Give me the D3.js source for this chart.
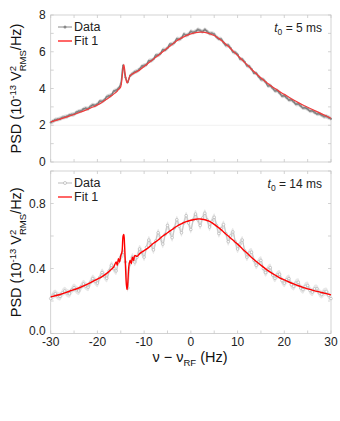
<!DOCTYPE html>
<html>
<head>
<meta charset="utf-8">
<script src="https://cdn.jsdelivr.net/npm/d3@7"></script>
<style>
  body { margin: 0; background: #fff; }
  svg { font-family: "Liberation Sans", Arial, sans-serif; }
</style>
</head>
<body>
<svg id="chart" width="340" height="421"></svg>
<script>
// sample grid of the measured spectra (Hz), 0.5 Hz steps
const nuData = d3.range(-30, 30.001, 0.5);

// t0 = 5 ms, measured PSD (1e-13 V^2/Hz)
const dataTop = [2.15, 2.22, 2.3, 2.32, 2.35, 2.42, 2.45, 2.48, 2.55, 2.58,
  2.6, 2.7, 2.75, 2.78, 2.88, 2.92, 2.9, 3.02, 3.1, 3.08,
  3.15, 3.3, 3.3, 3.38, 3.55, 3.6, 3.65, 3.85, 3.9, 4.0,
  4.25, 5.25, 4.6, 4.35, 4.7, 4.8, 4.9, 4.95, 5.05, 5.2,
  5.25, 5.3, 5.5, 5.52, 5.6, 5.8, 5.82, 5.9, 6.1, 6.1,
  6.2, 6.4, 6.42, 6.5, 6.7, 6.68, 6.75, 6.95, 6.9, 6.95,
  7.1, 7.05, 7.1, 7.2, 7.15, 7.1, 7.2, 7.1, 7.0, 7.0,
  6.95, 6.8, 6.7, 6.68, 6.5, 6.35, 6.35, 6.2, 6.0, 5.95,
  5.85, 5.62, 5.58, 5.45, 5.25, 5.2, 5.05, 4.85, 4.82, 4.65,
  4.5, 4.48, 4.35, 4.15, 4.15, 4.02, 3.88, 3.88, 3.75, 3.6,
  3.6, 3.5, 3.38, 3.38, 3.28, 3.15, 3.15, 3.05, 2.95, 2.95,
  2.88, 2.78, 2.78, 2.7, 2.62, 2.62, 2.55, 2.48, 2.48, 2.42, 2.35];

// t0 = 14 ms, measured PSD
const dataBottom = [0.215, 0.235, 0.245, 0.232, 0.228, 0.25, 0.262, 0.25, 0.245, 0.268,
  0.282, 0.27, 0.262, 0.288, 0.305, 0.292, 0.285, 0.315, 0.338, 0.322,
  0.31, 0.345, 0.375, 0.355, 0.34, 0.385, 0.42, 0.4, 0.385, 0.44,
  0.47, 0.5, 0.44, 0.28, 0.43, 0.47, 0.44, 0.47, 0.52, 0.5,
  0.47, 0.53, 0.575, 0.545, 0.515, 0.57, 0.62, 0.585, 0.55, 0.61,
  0.665, 0.625, 0.59, 0.65, 0.7, 0.66, 0.62, 0.68, 0.725, 0.68,
  0.64, 0.7, 0.735, 0.7, 0.665, 0.71, 0.74, 0.7, 0.655, 0.69,
  0.715, 0.665, 0.615, 0.645, 0.67, 0.615, 0.565, 0.6, 0.625, 0.565,
  0.52, 0.55, 0.575, 0.51, 0.47, 0.495, 0.5, 0.45, 0.42, 0.44,
  0.45, 0.4, 0.375, 0.395, 0.405, 0.36, 0.34, 0.36, 0.365, 0.325,
  0.31, 0.33, 0.338, 0.3, 0.29, 0.31, 0.315, 0.28, 0.27, 0.29,
  0.295, 0.265, 0.255, 0.275, 0.275, 0.25, 0.24, 0.255, 0.258, 0.235, 0.215];

// fit curves
const nuFit = [-30, -28, -26, -24, -22, -20, -19, -18, -17, -16.5, -16, -15.75, -15.5, -15.25, -15,
  -14.75, -14.5, -14.35, -14.2, -14, -13.8, -13.65, -13.5, -13.25, -13, -12.75, -12.5, -12.25, -12,
  -11.5, -11, -10, -9, -8, -7, -6, -5, -4, -3, -2, -1, 0, 1, 2, 3, 4, 5, 6, 7, 8, 9, 10,
  11, 12, 13, 14, 15, 16, 17, 18, 19, 20, 21, 22, 23, 24, 25, 26, 27, 28, 29, 30];
const fitTop = [2.18, 2.33, 2.5, 2.68, 2.88, 3.1, 3.25, 3.42, 3.6, 3.7, 3.8, 3.86, 3.95, 4.0, 4.1,
  4.5, 5.1, 5.3, 5.1, 4.7, 4.4, 4.3, 4.35, 4.55, 4.7, 4.74, 4.8, 4.82, 4.86,
  4.93, 5.0, 5.2, 5.4, 5.6, 5.8, 6.0, 6.2, 6.4, 6.6, 6.75, 6.88, 6.97, 7.04, 7.07, 7.05, 6.98, 6.88, 6.72, 6.52, 6.3, 6.05, 5.8,
  5.55, 5.3, 5.05, 4.8, 4.58, 4.37, 4.18, 4.0, 3.83, 3.68, 3.52, 3.37, 3.23, 3.1, 2.98, 2.86, 2.74, 2.62, 2.5, 2.38];
const fitBottom = [0.225, 0.24, 0.26, 0.28, 0.305, 0.335, 0.35, 0.37, 0.395, 0.41, 0.44, 0.42, 0.46, 0.44, 0.48,
  0.5, 0.6, 0.61, 0.55, 0.42, 0.3, 0.27, 0.31, 0.42, 0.45, 0.43, 0.47, 0.45, 0.48,
  0.475, 0.49, 0.51, 0.53, 0.555, 0.575, 0.6, 0.62, 0.64, 0.66, 0.675, 0.688, 0.697, 0.703, 0.705, 0.7, 0.69, 0.672, 0.65, 0.625, 0.6, 0.575, 0.55,
  0.522, 0.495, 0.468, 0.443, 0.42, 0.398, 0.378, 0.36, 0.343, 0.33, 0.317, 0.305, 0.294, 0.284, 0.275, 0.267, 0.259, 0.252, 0.245, 0.238];

// uncertainty half-widths
const errTop = 0.12;
const errBottom = 0.025;

const xTicks = [-30, -20, -10, 0, 10, 20, 30];
const yTicksTop = [0, 2, 4, 6, 8];
const yTicksBottom = [0.0, 0.4, 0.8];

const svg = d3.select("#chart");
const left = 50.7, right = 331;

const x = d3.scaleLinear().domain([-30, 30]).range([left, right]);

const panels = [
  { top: 15, bottom: 162, domain: [0, 8], ticks: yTicksTop, minor: d3.range(0, 8.01, 1),
    fmt: d3.format("d"), data: dataTop, fit: fitTop, err: errTop, label: "5 ms", dark: true },
  { top: 171, bottom: 333.5, domain: [0, 1], ticks: yTicksBottom, minor: d3.range(0, 1.01, 0.2),
    fmt: d3.format(".1f"), data: dataBottom, fit: fitBottom, err: errBottom, label: "14 ms", dark: false }
];

panels.forEach((p, i) => {
  const y = d3.scaleLinear().domain(p.domain).range([p.bottom, p.top]);
  const g = svg.append("g");

  // faint gridline seen in the top panel
  if (i === 0) {
    g.append("line").attr("x1", left).attr("x2", right)
      .attr("y1", y(2)).attr("y2", y(2))
      .attr("stroke", "#eee").attr("stroke-width", 0.8);
  }

  // frame
  g.append("rect").attr("x", left).attr("y", p.top)
    .attr("width", right - left).attr("height", p.bottom - p.top)
    .attr("fill", "none").attr("stroke", "#c8c8c8").attr("stroke-width", 0.8);

  // inward ticks, every 5 Hz on x
  const tk = g.append("g").attr("stroke", "#c8c8c8").attr("stroke-width", 0.8);
  d3.range(-30, 30.01, 5).forEach(v => {
    tk.append("line").attr("x1", x(v)).attr("x2", x(v)).attr("y1", p.bottom).attr("y2", p.bottom - 3);
    tk.append("line").attr("x1", x(v)).attr("x2", x(v)).attr("y1", p.top).attr("y2", p.top + 3);
  });
  p.minor.forEach(v => {
    tk.append("line").attr("x1", left).attr("x2", left + 3).attr("y1", y(v)).attr("y2", y(v));
    tk.append("line").attr("x1", right).attr("x2", right - 3).attr("y1", y(v)).attr("y2", y(v));
  });

  // y tick labels (lowest bottom label nudged up, clear of "-30")
  g.selectAll(".yl").data(p.ticks).join("text")
    .attr("x", left - 5).attr("y", d => y(d) - (i === 1 && d === 0 ? 3 : 0)).attr("dy", "0.35em")
    .attr("text-anchor", "end").attr("font-size", 12).attr("fill", "#222")
    .text(p.fmt);

  // data: band, line, markers
  const pts = p.data.map((v, k) => [nuData[k], v]);
  g.append("path").datum(pts)
    .attr("fill", p.dark ? "#d6d6d6" : "#e8e8e8")
    .attr("d", d3.area().x(d => x(d[0])).y0(d => y(d[1] - p.err)).y1(d => y(d[1] + p.err))
      .curve(d3.curveCatmullRom));
  g.append("path").datum(pts)
    .attr("fill", "none").attr("stroke", p.dark ? "#777" : "#bdbdbd").attr("stroke-width", p.dark ? 1.4 : 0.9)
    .attr("d", d3.line().x(d => x(d[0])).y(d => y(d[1])).curve(d3.curveCatmullRom));
  g.selectAll(".pt").data(pts).join("circle")
    .attr("cx", d => x(d[0])).attr("cy", d => y(d[1])).attr("r", p.dark ? 1.1 : 1.3)
    .attr("fill", p.dark ? "#888" : "#fff").attr("stroke", p.dark ? "none" : "#aaa").attr("stroke-width", 0.6);

  // fit
  const fpts = p.fit.map((v, k) => [nuFit[k], v]);
  g.append("path").datum(fpts)
    .attr("fill", "none").attr("stroke", p.dark ? "#f03c3c" : "#f00").attr("stroke-width", p.dark ? 1.2 : 1.4)
    .attr("d", d3.line().x(d => x(d[0])).y(d => y(d[1])).curve(d3.curveCatmullRom));

  // legend
  const ly = p.top + 12;
  const lg = g.append("g").attr("font-size", 12.5).attr("fill", "#222");
  lg.append("line").attr("x1", 58).attr("x2", 72).attr("y1", ly).attr("y2", ly)
    .attr("stroke", p.dark ? "#888" : "#bbb").attr("stroke-width", 1);
  lg.append("circle").attr("cx", 65).attr("cy", ly).attr("r", 1.5)
    .attr("fill", p.dark ? "#888" : "#fff").attr("stroke", p.dark ? "none" : "#aaa").attr("stroke-width", 0.6);
  lg.append("text").attr("x", 74).attr("y", ly).attr("dy", "0.35em").text("Data");
  lg.append("line").attr("x1", 58).attr("x2", 72).attr("y1", ly + 14).attr("y2", ly + 14)
    .attr("stroke", "#f00").attr("stroke-width", 1.2);
  lg.append("text").attr("x", 74).attr("y", ly + 14).attr("dy", "0.35em").text("Fit 1");

  // t0 annotation
  const t = g.append("text").attr("x", 322).attr("y", ly + 1).attr("dy", "0.35em")
    .attr("text-anchor", "end").attr("font-size", 12).attr("fill", "#222");
  t.append("tspan").attr("font-style", "italic").text("t");
  t.append("tspan").attr("font-size", 8.5).attr("dy", 3).text("0");
  t.append("tspan").attr("dy", -3).text(" = " + p.label);

  // y-axis title
  const cy = (p.top + p.bottom) / 2;
  const yt = g.append("text").attr("transform", `translate(21,${cy}) rotate(-90)`)
    .attr("text-anchor", "middle").attr("font-size", 14.5).attr("fill", "#111");
  yt.append("tspan").text("PSD (10");
  yt.append("tspan").attr("font-size", 9.5).attr("dy", -5.5).text("-13");
  yt.append("tspan").attr("dy", 5.5).text(" V");
  yt.append("tspan").attr("font-size", 9.5).attr("dy", -5.5).text("2");
  yt.append("tspan").attr("font-size", 9.5).attr("dx", -5.3).attr("dy", 10).text("RMS");
  yt.append("tspan").attr("dy", -4.5).text("/Hz)");
});

// x tick labels under the bottom panel
svg.append("g").selectAll("text").data(xTicks).join("text")
  .attr("x", d => x(d)).attr("y", 342).attr("dy", "0.35em")
  .attr("text-anchor", "middle").attr("font-size", 12).attr("fill", "#222")
  .text(d => d);

// x-axis title
const xt = svg.append("text").attr("x", 190).attr("y", 357).attr("dy", "0.35em")
  .attr("text-anchor", "middle").attr("font-size", 14.5).attr("fill", "#111");
xt.append("tspan").text("ν − ν");
xt.append("tspan").attr("font-size", 9.5).attr("dy", 3.5).text("RF");
xt.append("tspan").attr("dy", -3.5).text(" (Hz)");
</script>
</body>
</html>
